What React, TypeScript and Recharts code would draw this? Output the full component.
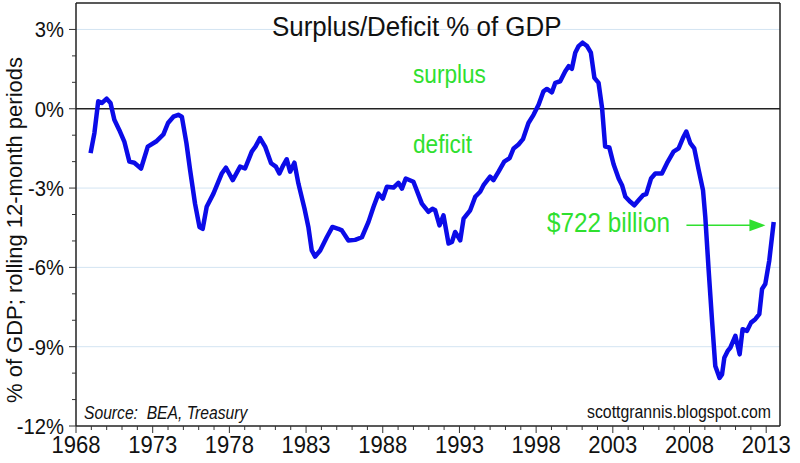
import React from 'react';
import { LineChart, Line, XAxis, YAxis, ReferenceLine } from 'recharts';

// rolling 12-month federal surplus/deficit as % of GDP
const years = [
  1968.95, 1969.2, 1969.45, 1969.7, 1970.0, 1970.25, 1970.5, 1970.82, 1971.15, 1971.48,
  1971.8, 1972.24, 1972.68, 1973.22, 1973.7, 1974.0, 1974.35, 1974.67, 1974.9, 1975.2,
  1975.44, 1975.76, 1976.05, 1976.26, 1976.52, 1976.96, 1977.5, 1977.78, 1978.22, 1978.7,
  1979.02, 1979.46, 1979.7, 1980.0, 1980.33, 1980.72, 1981.03, 1981.26, 1981.52, 1981.74,
  1981.96, 1982.24, 1982.5, 1982.9, 1983.15, 1983.37, 1983.59, 1983.92, 1984.35, 1984.72,
  1985.1, 1985.33, 1985.76, 1986.2, 1986.64, 1987.07, 1987.4, 1987.72, 1988.0, 1988.27,
  1988.7, 1989.02, 1989.25, 1989.5, 1990.0, 1990.55, 1990.98, 1991.24, 1991.42, 1991.7,
  1991.96, 1992.29, 1992.51, 1992.72, 1993.05, 1993.27, 1993.7, 1994.03, 1994.35, 1994.57,
  1995.0, 1995.22, 1995.55, 1995.92, 1996.27, 1996.53, 1996.85, 1997.14, 1997.5, 1997.83,
  1998.16, 1998.48, 1998.7, 1999.03, 1999.25, 1999.57, 1999.9, 2000.12, 2000.33, 2000.55,
  2000.77, 2001.03, 2001.32, 2001.57, 2001.8, 2002.07, 2002.3, 2002.5, 2002.77, 2003.05,
  2003.38, 2003.6, 2003.82, 2004.14, 2004.4, 2004.68, 2004.97, 2005.18, 2005.49, 2005.77,
  2006.2, 2006.53, 2006.96, 2007.29, 2007.57, 2007.79, 2008.05, 2008.31, 2008.6, 2008.88,
  2009.03, 2009.25, 2009.47, 2009.68, 2009.96, 2010.12, 2010.27, 2010.49, 2010.66, 2010.99,
  2011.27, 2011.46, 2011.75, 2012.01, 2012.29, 2012.55, 2012.73, 2012.94, 2013.2, 2013.49,
];

const deficitPct = [
  -1.68, -0.92, 0.28, 0.22, 0.38, 0.22, -0.42, -0.8, -1.24, -2.0,
  -2.04, -2.26, -1.43, -1.24, -0.97, -0.54, -0.3, -0.23, -0.3, -1.3,
  -2.32, -3.59, -4.47, -4.54, -3.71, -3.21, -2.45, -2.23, -2.7, -2.19,
  -2.26, -1.62, -1.43, -1.11, -1.43, -2.06, -2.19, -2.45, -2.13, -1.91,
  -2.38, -2.04, -2.83, -3.78, -4.47, -5.36, -5.59, -5.36, -4.86, -4.47,
  -4.54, -4.6, -4.98, -4.96, -4.86, -4.28, -3.71, -3.21, -3.4, -2.95,
  -2.98, -2.8, -3.02, -2.64, -2.76, -3.59, -3.9, -3.78, -3.84, -4.41,
  -4.03, -5.1, -5.04, -4.66, -4.98, -4.16, -3.84, -3.33, -3.14, -2.89,
  -2.57, -2.7, -2.38, -2.0, -1.87, -1.5, -1.35, -1.15, -0.54, -0.23,
  0.15, 0.66, 0.75, 0.62, 0.98, 1.04, 1.42, 1.61, 1.51, 2.12,
  2.37, 2.5, 2.37, 2.12, 1.17, 0.98, 0.03, -1.43, -1.46, -2.1,
  -2.64, -2.89, -3.33, -3.52, -3.65, -3.46, -3.27, -3.23, -2.64, -2.45,
  -2.45, -2.06, -1.62, -1.5, -1.11, -0.86, -1.3, -1.5, -2.32, -3.08,
  -4.1, -6.12, -8.02, -9.73, -10.18, -10.05, -9.42, -9.16, -9.04, -8.59,
  -9.29, -8.34, -8.4, -8.09, -7.96, -7.77, -6.82, -6.63, -5.74, -4.28,
];

const xTicks = Array.from({ length: 46 }, (_, i) => 1968 + i);
const yTicks = Array.from({ length: 16 }, (_, i) => -12 + i);
const gridLevels = [3, -3, -6, -9];

const data = years.map((yr, i) => ({ year: yr, pct: deficitPct[i] }));

const GREEN = '#2fe02f';
const FONT = "'Liberation Sans', Arial, sans-serif";

const XTick = (props: any) => {
  const { x, y, payload } = props;
  const major = (payload.value - 1968) % 5 === 0;
  return (
    <g>
      <line x1={x} x2={x} y1={y} y2={y + (major ? 7 : 4)} stroke="#333" />
      {major && (
        <text
          transform={`translate(${x},${y + 27}) scale(0.92,1)`}
          textAnchor="middle"
          fontSize={24}
          fontFamily={FONT}
          fill="#111"
        >
          {payload.value}
        </text>
      )}
    </g>
  );
};

const YTick = (props: any) => {
  const { x, y, payload } = props;
  const major = payload.value % 3 === 0;
  return (
    <g>
      <line x1={x} x2={x - (major ? 7 : 4)} y1={y} y2={y} stroke="#333" />
      {major && (
        <text
          transform={`translate(${x - 12},${y + 8}) scale(0.92,1)`}
          textAnchor="end"
          fontSize={22}
          fontFamily={FONT}
          fill="#111"
        >
          {payload.value + '%'}
        </text>
      )}
    </g>
  );
};

const Arrow = (props: any) => {
  const { x1, y1, x2, y2 } = props;
  return (
    <g>
      <line x1={x1} y1={y1} x2={x2 - 12} y2={y2} stroke={GREEN} strokeWidth={1.5} />
      <polygon points={`${x2},${y2} ${x2 - 16},${y2 - 6} ${x2 - 16},${y2 + 6}`} fill={GREEN} />
    </g>
  );
};

const Txt = ({ left, top, size, sx = 1, color = '#111', italic = false, children }: any) => (
  <div
    style={{
      position: 'absolute',
      left,
      top,
      fontFamily: FONT,
      fontSize: size,
      lineHeight: 1,
      color,
      fontStyle: italic ? 'italic' : 'normal',
      whiteSpace: 'pre',
      transform: `scaleX(${sx})`,
      transformOrigin: 'left top',
    }}
  >
    {children}
  </div>
);

export default function App() {
  return (
    <div style={{ position: 'absolute', left: 0, top: 0, width: 800, height: 463, background: '#fff', overflow: 'hidden' }}>
      <LineChart width={800} height={463} data={data} margin={{ top: 3, right: 20, bottom: 0, left: 0 }}>
        {gridLevels.map((g) => (
          <ReferenceLine key={g} y={g} stroke="#d3e4f2" strokeWidth={1} />
        ))}
        <ReferenceLine y={0} stroke="#222" strokeWidth={1.5} />
        <ReferenceLine y={4} stroke="#222" strokeWidth={1.5} />
        <ReferenceLine x={2013.9} stroke="#222" strokeWidth={1.5} />
        <XAxis
          dataKey="year"
          type="number"
          domain={[1968, 2013.9]}
          ticks={xTicks}
          interval={0}
          tick={<XTick />}
          tickLine={false}
          tickSize={0}
          tickMargin={0}
          height={37}
          axisLine={{ stroke: '#222', strokeWidth: 1.5 }}
          allowDataOverflow
        />
        <YAxis
          type="number"
          domain={[-12, 4]}
          ticks={yTicks}
          interval={0}
          tick={<YTick />}
          tickLine={false}
          tickSize={0}
          tickMargin={0}
          width={76}
          axisLine={{ stroke: '#222', strokeWidth: 1.5 }}
          allowDataOverflow
        />
        <ReferenceLine
          segment={[{ x: 2007.8, y: -4.41 }, { x: 2012.95, y: -4.41 }]}
          shape={<Arrow />}
        />
        <Line
          type="linear"
          dataKey="pct"
          stroke="#0b0be8"
          strokeWidth={4.5}
          strokeLinejoin="round"
          dot={false}
          isAnimationActive={false}
        />
      </LineChart>
      <div
        style={{
          position: 'absolute',
          left: 15,
          top: 230,
          transform: 'translate(-50%, -50%) rotate(-90deg)',
          fontFamily: FONT,
          fontSize: 22,
          lineHeight: 1,
          whiteSpace: 'nowrap',
          color: '#111',
        }}
      >
        % of GDP; rolling 12-month periods
      </div>
      <Txt left={272} top={14} size={27} sx={0.96}>Surplus/Deficit % of GDP</Txt>
      <Txt left={413} top={61} size={26} sx={0.87} color={GREEN}>surplus</Txt>
      <Txt left={413} top={131} size={26} sx={0.87} color={GREEN}>deficit</Txt>
      <Txt left={547} top={210} size={27} sx={0.9} color={GREEN}>$722 billion</Txt>
      <Txt left={84} top={404} size={18} sx={0.87} italic>Source:  BEA, Treasury</Txt>
      <Txt left={587} top={403} size={18} sx={0.88}>scottgrannis.blogspot.com</Txt>
    </div>
  );
}
